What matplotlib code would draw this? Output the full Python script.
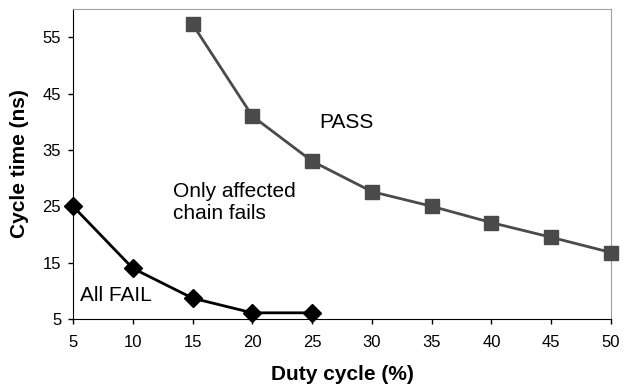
import matplotlib
matplotlib.use("Agg")
import matplotlib.pyplot as plt

plt.rcParams['font.family'] = ['Liberation Sans', 'DejaVu Sans']

# Duty cycle (%) and minimum passing cycle time (ns)
pass_duty = [15, 20, 25, 30, 35, 40, 45, 50]
pass_cycle = [57.3, 41.0, 33.0, 27.6, 25.0, 22.1, 19.5, 16.8]

fail_duty = [5, 10, 15, 20, 25]
fail_cycle = [25.0, 14.0, 8.7, 6.1, 6.1]

x_ticks = [5, 10, 15, 20, 25, 30, 35, 40, 45, 50]
y_ticks = [5, 15, 25, 35, 45, 55]

fig = plt.figure(figsize=(6.25, 3.9), dpi=100)
ax = fig.add_axes([0.1168, 0.182, 0.8608, 0.795])

ax.plot(pass_duty, pass_cycle, color='#4a4a4a', lw=2, marker='s', ms=9.5,
        markerfacecolor='#4a4a4a', markeredgecolor='#4a4a4a', clip_on=False, zorder=3)
ax.plot(fail_duty, fail_cycle, color='black', lw=2, marker='D', ms=9,
        markerfacecolor='black', markeredgecolor='black', clip_on=False, zorder=4)

ax.set_xlim(5, 50)
ax.set_ylim(5, 60)
ax.set_xticks(x_ticks)
ax.set_yticks(y_ticks)
ax.tick_params(axis='both', labelsize=12, length=3.5, width=1, direction='out', color='black')
ax.tick_params(axis='x', pad=8)
ax.tick_params(axis='y', pad=5)

for s in ['top', 'right']:
    ax.spines[s].set_color('#a0a0a0')
for s in ['left', 'bottom']:
    ax.spines[s].set_color('black')

ax.set_xlabel('Duty cycle (%)', fontsize=15, fontweight='bold', labelpad=11)
ax.set_ylabel('Cycle time (ns)', fontsize=15, fontweight='bold', labelpad=10)

ax.text(25.57, 39.8, 'PASS', fontsize=15, ha='left', va='center')
ax.text(13.36, 25.7, 'Only affected\nchain fails', fontsize=15, ha='left', va='center',
        multialignment='left', linespacing=1.2)
ax.text(5.58, 9.1, 'All FAIL', fontsize=15, ha='left', va='center')

fig.savefig('out.png', dpi=100)
